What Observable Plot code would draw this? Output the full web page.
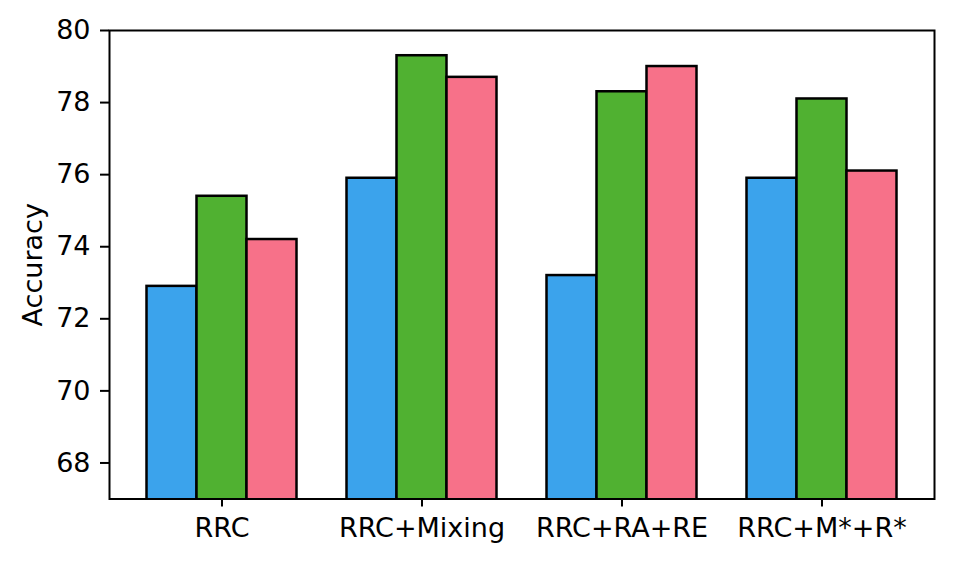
<!DOCTYPE html>
<html>
<head>
<meta charset="utf-8">
<script src="https://cdn.jsdelivr.net/npm/d3@7"></script>
<script src="https://cdn.jsdelivr.net/npm/@observablehq/plot@0.6"></script>
<style>
  html, body { margin: 0; padding: 0; background: white; }
</style>
</head>
<body>
<div id="chart"></div>
<script>
const categories = ["RRC", "RRC+Mixing", "RRC+RA+RE", "RRC+M*+R*"];
const seriesNames = ["Series 1", "Series 2", "Series 3"];
const seriesColors = ["#3ba3ec", "#50b131", "#f77189"];
const series1 = [72.9, 75.9, 73.2, 75.9];
const series2 = [75.4, 79.3, 78.3, 78.1];
const series3 = [74.2, 78.7, 79.0, 76.1];
const yTicks = [68, 70, 72, 74, 76, 78, 80];
const yLabel = "Accuracy";

const allSeries = [series1, series2, series3];
const barWidth = 0.25;
const rows = [];
allSeries.forEach((vals, j) => {
  vals.forEach((v, i) => {
    const center = i + (j - 1) * barWidth;
    rows.push({cat: i, series: seriesNames[j], value: v, x1: center - barWidth / 2, x2: center + barWidth / 2});
  });
});

const fs = 27;
const chart = Plot.plot({
  width: 953,
  height: 563,
  marginLeft: 109,
  marginRight: 19,
  marginTop: 30,
  marginBottom: 64.5,
  style: {fontFamily: "DejaVu Sans", fontSize: fs + "px", background: "white", color: "black"},
  x: {domain: [-0.5625, 3.5625], axis: null},
  y: {domain: [67, 80], axis: null},
  color: {domain: seriesNames, range: seriesColors},
  marks: [
    Plot.rect(rows, {x1: "x1", x2: "x2", y1: 0, y2: "value", fill: "series", stroke: "black", strokeWidth: 2.5, clip: true}),
    Plot.frame({stroke: "black", strokeWidth: 2}),
    Plot.axisY({ticks: yTicks, tickSize: 9, tickPadding: 10, strokeWidth: 2, label: null, fontSize: fs, tickFormat: d => String(d)}),
    Plot.axisX({ticks: [0, 1, 2, 3], tickFormat: i => categories[i], tickSize: 8, tickPadding: 11, strokeWidth: 2, label: null, fontSize: fs}),
    Plot.text([yLabel], {frameAnchor: "left", textAnchor: "middle", lineAnchor: "middle", dx: -76, rotate: -90, text: d => d, fontSize: fs, fill: "black"})
  ]
});
document.getElementById("chart").appendChild(chart);
</script>
</body>
</html>
